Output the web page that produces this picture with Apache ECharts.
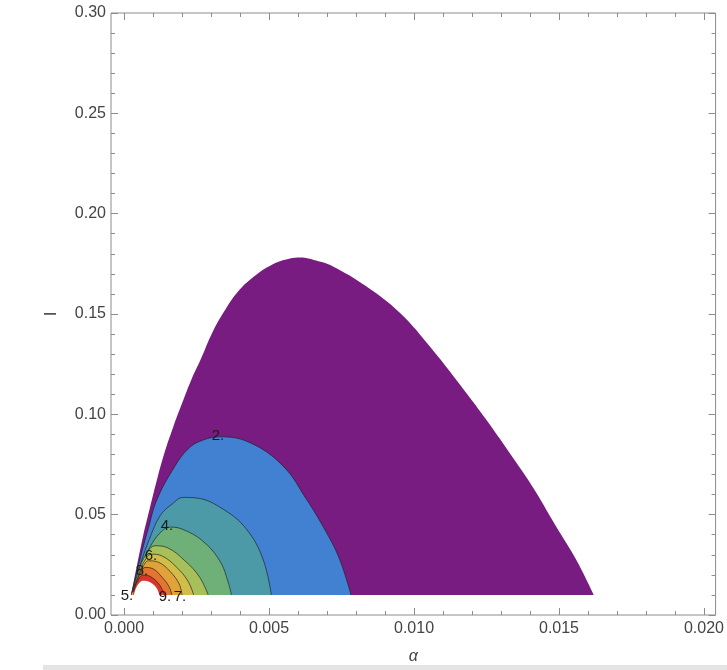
<!DOCTYPE html>
<html><head><meta charset="utf-8">
<script src="https://cdn.jsdelivr.net/npm/echarts@6/dist/echarts.min.js"></script>
<style>html,body{margin:0;padding:0;background:#fff}#c{width:727px;height:670px}</style>
</head><body><div id="c"></div>
<script>
// tick values
const xMajorTicks = [0, 0.005, 0.010, 0.015, 0.020];
const xMinorTicks = [0.001,0.002,0.003,0.004,0.006,0.007,0.008,0.009,0.011,0.012,0.013,0.014,0.016,0.017,0.018,0.019];

// contour boundaries [alpha, I] (level n = outer edge of band n..n+1)
const level1 = [[0.000241,0.00995],[0.000448,0.0249],[0.000655,0.0393],[0.000897,0.0537],[0.00114,0.0677],[0.00141,0.0816],[0.00169,0.0935],[0.0020,0.1055],[0.00231,0.1169],[0.00266,0.1279],[0.00303,0.1403],[0.00345,0.1512],[0.00393,0.1612],[0.00448,0.1687],[0.0051,0.1746],[0.00572,0.1776],[0.00607,0.1781],[0.00662,0.1766],[0.00719,0.1738],[0.00835,0.1638],[0.0095,0.1507],[0.01063,0.1323],[0.01179,0.1109],[0.01248,0.0975],[0.01328,0.0811],[0.01407,0.0643],[0.01489,0.0444],[0.01558,0.0279],[0.0162,0.01]];
const level2 = [[0.00026,0.0105],[0.00055,0.0279],[0.00083,0.0428],[0.00114,0.0577],[0.00176,0.0743],[0.0022,0.0826],[0.00262,0.0866],[0.0033,0.0888],[0.00434,0.0859],[0.00548,0.0743],[0.00629,0.0577],[0.00698,0.0411],[0.00743,0.0279],[0.00783,0.01]];
const level3 = [[0.00027,0.0108],[0.00058,0.026],[0.00088,0.038],[0.00124,0.0494],[0.00165,0.0552],[0.00204,0.0586],[0.0025,0.0583],[0.00342,0.0527],[0.00422,0.0428],[0.00479,0.0279],[0.00508,0.01]];
const level4 = [[0.00028,0.011],[0.0006,0.024],[0.0009,0.034],[0.00125,0.041],[0.00158,0.0438],[0.002,0.0428],[0.0027,0.037],[0.0033,0.027],[0.0036,0.016],[0.0037,0.01]];
const level5 = [[0.00029,0.0112],[0.0005,0.022],[0.00075,0.030],[0.00107,0.0345],[0.0015,0.0335],[0.0021,0.027],[0.0026,0.019],[0.0029,0.01]];
const level6 = [[0.0003,0.0113],[0.0005,0.020],[0.0007,0.0268],[0.00095,0.0303],[0.0013,0.0295],[0.0018,0.024],[0.0022,0.017],[0.0024,0.01]];
const level7 = [[0.0003,0.0114],[0.00048,0.0185],[0.00065,0.024],[0.00084,0.027],[0.0012,0.0262],[0.0016,0.0215],[0.0019,0.0155],[0.002,0.01]];
const level8 = [[0.00031,0.0115],[0.00046,0.0175],[0.0006,0.0215],[0.00072,0.0237],[0.001,0.023],[0.0013,0.019],[0.00155,0.0142],[0.00165,0.01]];
const level9 = [[0.00032,0.0116],[0.00045,0.0165],[0.00066,0.0199],[0.0009,0.0192],[0.0012,0.0155],[0.0014,0.01]];
const level10 = [[0.00034,0.01],[0.00045,0.0145],[0.00066,0.0171],[0.0009,0.0163],[0.00112,0.0135],[0.00122,0.01]];

const bandColors = ['#781C82','#4281D2','#4C9AA8','#6FB078','#A8C05A','#D2BD48','#E2A23A','#E4742F','#D9352A','#ffffff'];
const levelNames = ['1','2','3','4','5','6','7','8','9','10'];

// contour labels [alpha, I, text]
const contourLabels = [[0.00324,0.0891,'2.'],[0.00148,0.0443,'4.'],[0.00093,0.0294,'6.'],[0.00062,0.0219,'8.'],[0.0001,0.0095,'5.'],[0.00141,0.009,'9.'],[0.00193,0.009,'7.']];

const levels = [level1,level2,level3,level4,level5,level6,level7,level8,level9,level10];

const chart = echarts.init(document.getElementById('c'), null, {renderer:'canvas'});
const FONT = 'Liberation Sans, Arial, sans-serif';
const frameColor = '#8c8c8c';

const series = levels.map((pts, i) => ({
  name: 'level ' + levelNames[i],
  type: 'line',
  data: pts,
  smooth: 0.4,
  showSymbol: false,
  symbol: 'none',
  xAxisIndex: 0, yAxisIndex: 0,
  lineStyle: (i === 0 || i === 9) ? {width: 0, color: bandColors[i]} : {width: 0.9, color: 'rgba(30,30,30,0.75)'},
  areaStyle: {color: bandColors[i], opacity: 1, origin: 0.01},
  silent: true,
  z: 2 + i * 0.01
}));

series.push({
  type: 'custom',
  xAxisIndex: 0, yAxisIndex: 0,
  data: contourLabels.map(d => [d[0], d[1], d[2]]),
  silent: true,
  z: 5,
  renderItem: function (params, api) {
    const p = api.coord([api.value(0), api.value(1)]);
    return {
      type: 'text', x: p[0], y: p[1],
      style: {text: contourLabels[params.dataIndex][2], fontSize: 15, fontFamily: FONT, fill: '#1a1a1a', align: 'center', verticalAlign: 'middle'}
    };
  }
});

const XMIN = -0.00045, XMAX = 0.0204;
function xAxisDef(pos, major, withLabels) {
  return {
    type: 'value', position: pos, min: XMIN, max: XMAX,
    axisLine: {show: false, onZero: false},
    splitLine: {show: false},
    axisTick: {show: true, inside: true, length: major ? 7 : 4, customValues: major ? xMajorTicks : xMinorTicks, lineStyle: {color: frameColor, width: 1}},
    axisLabel: withLabels ? {show: true, customValues: xMajorTicks, formatter: v => v.toFixed(3), fontSize: 16, fontFamily: FONT, color: '#444', margin: 6} : {show: false}
  };
}
function yAxisDef(pos, withLabels) {
  return {
    type: 'value', position: pos, min: 0, max: 0.30, interval: 0.05,
    axisLine: {show: false, onZero: false},
    splitLine: {show: false},
    axisTick: {show: true, inside: true, length: 7, lineStyle: {color: frameColor, width: 1}},
    minorTick: {show: true, splitNumber: 5, length: 4, lineStyle: {color: frameColor, width: 1}},
    axisLabel: withLabels ? {show: true, formatter: v => v.toFixed(2), fontSize: 16, fontFamily: FONT, color: '#444', margin: 5} : {show: false}
  };
}

const xAxes = [xAxisDef('bottom', true, true), xAxisDef('bottom', false, false), xAxisDef('top', true, false), xAxisDef('top', false, false)];
xAxes[0].name = 'α';
xAxes[0].nameLocation = 'middle';
xAxes[0].nameGap = 34;
xAxes[0].nameTextStyle = {fontSize: 16, fontStyle: 'italic', fontFamily: FONT, color: '#444'};
const yAxes = [yAxisDef('left', true), yAxisDef('right', false)];
yAxes[0].name = 'I';
yAxes[0].nameLocation = 'middle';
yAxes[0].nameRotate = 90;
yAxes[0].nameGap = 51;
yAxes[0].nameTextStyle = {fontSize: 17, fontFamily: FONT, color: '#444'};

chart.setOption({
  animation: false,
  backgroundColor: '#ffffff',
  grid: {left: 111, right: 10, top: 13, bottom: 54, show: true, borderColor: frameColor, borderWidth: 1, backgroundColor: 'transparent'},
  xAxis: xAxes,
  yAxis: yAxes,
  graphic: [{type: 'rect', left: 43, top: 665, shape: {width: 684, height: 5}, style: {fill: '#e4e4e4'}, silent: true}],
  series: series
});
</script></body></html>
